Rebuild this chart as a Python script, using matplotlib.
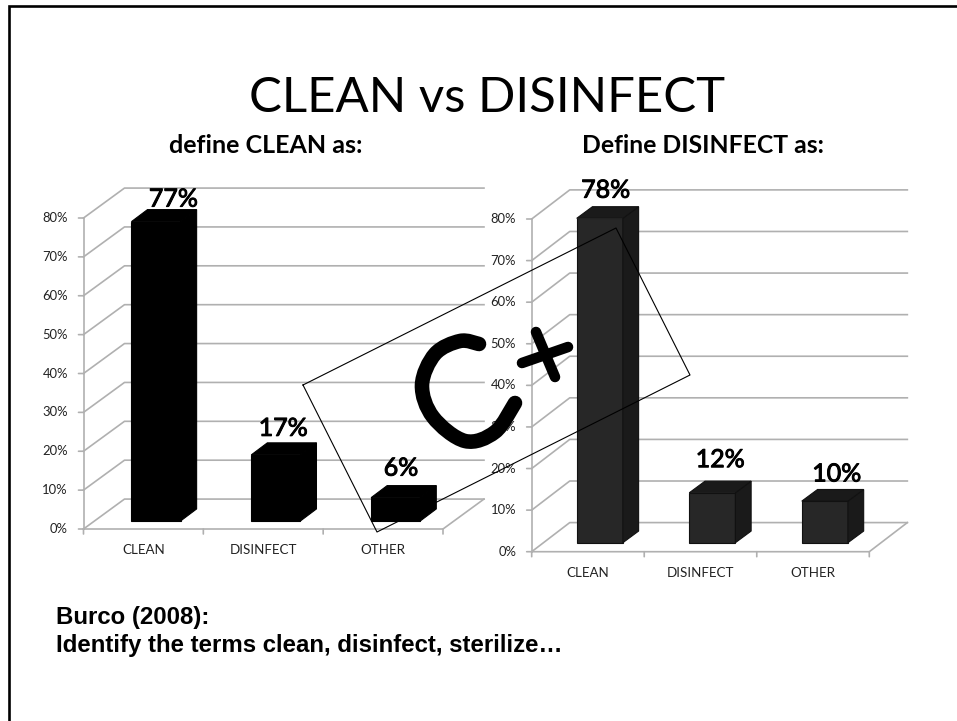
import matplotlib
matplotlib.use("Agg")
import matplotlib.pyplot as plt
import matplotlib.patheffects as pe
from matplotlib.path import Path
from matplotlib.patches import PathPatch

W, H = 957, 721

categories = ['CLEAN', 'DISINFECT', 'OTHER']
clean_values = [77, 17, 6]
disinfect_values = [78, 12, 10]
y_ticks = [0, 10, 20, 30, 40, 50, 60, 70, 80]

GRID = '#b0b0b0'
FONT = 'Lato'

plt.rcParams['font.family'] = [FONT, 'DejaVu Sans']

fig = plt.figure(figsize=(W / 100, H / 100), dpi=100)


def add_px_axes(left, right, top, bottom):
    return fig.add_axes([left / W, 1 - bottom / H, (right - left) / W, (bottom - top) / H])


def smooth_path(pts):
    # catmull-rom through the points
    verts = [pts[0]]
    codes = [Path.MOVETO]
    for i in range(len(pts) - 1):
        p0 = pts[max(i - 1, 0)]
        p1 = pts[i]
        p2 = pts[i + 1]
        p3 = pts[min(i + 2, len(pts) - 1)]
        c1 = (p1[0] + (p2[0] - p0[0]) / 6, p1[1] + (p2[1] - p0[1]) / 6)
        c2 = (p2[0] - (p3[0] - p1[0]) / 6, p2[1] - (p3[1] - p1[1]) / 6)
        verts += [c1, c2, p2]
        codes += [Path.CURVE4] * 3
    return Path(verts, codes)


def draw_chart(ax, values, front, side, edge, wall_dx, wall_dy, bar_dx, bar_dy, base, label_off):
    ax.set_xlim(0, 3)
    ax.set_ylim(0, 80)
    ax.axis('off')
    # walls and grid
    for v in y_ticks:
        ax.plot([0, wall_dx, 3 + wall_dx], [v, v + wall_dy, v + wall_dy],
                color=GRID, lw=1.2, clip_on=False, zorder=1)
        ax.annotate(f'{v}%', (0, v), xytext=(-15.5, 0), textcoords='offset pixels',
                    ha='right', va='center', fontsize=9.4, color='#222222', annotation_clip=False)
        ax.annotate('', (0, v), xytext=(-5, 0), textcoords='offset pixels',
                    arrowprops=dict(arrowstyle='-', color=GRID, lw=1.2, shrinkA=0, shrinkB=0),
                    annotation_clip=False)
    ax.plot([0, 0], [0, 80], color=GRID, lw=1.2, clip_on=False, zorder=1)
    ax.plot([0, 3, 3 + wall_dx], [0, 0, wall_dy], color=GRID, lw=1.2, clip_on=False, zorder=1)
    for i in range(4):
        ax.annotate('', (i, 0), xytext=(0, -5), textcoords='offset pixels',
                    arrowprops=dict(arrowstyle='-', color=GRID, lw=1.2, shrinkA=0, shrinkB=0),
                    annotation_clip=False)
    for i, name in enumerate(categories):
        ax.annotate(name, (i + 0.5, 0), xytext=(0, -21), textcoords='offset pixels',
                    ha='center', va='center', fontsize=9.6, color='#222222', annotation_clip=False)
    # bars
    for i, v in enumerate(values):
        x0 = i + 0.4
        x1 = x0 + 0.41
        top = base + v
        ax.bar(x0, v, width=x1 - x0, bottom=base, align='edge', color=front,
               edgecolor=edge, lw=0.8, zorder=3)
        ax.fill([x1, x1 + bar_dx, x1 + bar_dx, x1], [base, base + bar_dy, top + bar_dy, top],
                facecolor=side, edgecolor=edge, lw=0.8, zorder=3, clip_on=False)
        ax.fill([x0, x0 + bar_dx, x1 + bar_dx, x1], [top, top + bar_dy, top + bar_dy, top],
                facecolor=side, edgecolor=edge, lw=0.8, zorder=3, clip_on=False)
        ox, oy = label_off[i]
        ax.annotate(f'{v}%', (x0, top + bar_dy), xytext=(ox, oy), textcoords='offset pixels',
                    ha='center', va='baseline', fontsize=18, color='black', zorder=5,
                    annotation_clip=False,
                    path_effects=[pe.withStroke(linewidth=0.7, foreground='black')])


ax1 = add_px_axes(83.5, 443, 218, 529)
draw_chart(ax1, clean_values, 'black', 'black', 'black', 0.342, 7.7, 0.134, 3.1, 2.06,
           [(42, 3), (32, 7), (30, 10)])

ax2 = add_px_axes(531.7, 869.3, 219, 551.7)
draw_chart(ax2, disinfect_values, '#272727', '#1a1a1a', '#111111', 0.338, 7.0, 0.14, 2.8, 2.16,
           [(29, 9), (31, 14), (35, 8)])

# overlay in pixel coordinates: frame, titles, handwritten mark
over = fig.add_axes([0, 0, 1, 1], zorder=10)
over.set_xlim(0, W)
over.set_ylim(H, 0)
over.axis('off')
over.patch.set_alpha(0)

over.plot([8.5, 8.5, W], [H, 5.5, 5.5], color='black', lw=1.9, solid_joinstyle='miter')

over.text(487.5, 112, 'CLEAN vs DISINFECT', ha='center', va='baseline', fontsize=35.4, color='black')
over.text(265.5, 153, 'define CLEAN as:', ha='center', va='baseline', fontsize=18,
          color='black', fontweight='bold')
over.text(702.5, 153, 'Define DISINFECT as:', ha='center', va='baseline', fontsize=17.8,
          color='black', fontweight='bold')
over.text(56, 624, 'Burco (2008):', ha='left', va='baseline', fontsize=17.25,
          family='Liberation Sans', fontweight='bold', color='black')
over.text(56, 652, 'Identify the terms clean, disinfect, sterilize…', ha='left', va='baseline',
          fontsize=17.25, family='Liberation Sans', fontweight='bold', color='black')

box_x = [303, 616, 690, 377, 303]
box_y = [385, 228, 375, 532, 385]
over.plot(box_x, box_y, color='black', lw=0.8)

c_stroke = [(479, 344), (460, 341), (435, 354), (422, 385), (433, 417), (465, 441), (495, 432), (515, 403)]
over.add_patch(PathPatch(smooth_path(c_stroke), fill=False, lw=10.5, edgecolor='black',
                         capstyle='round', joinstyle='round'))
over.plot([536, 555], [332, 377], color='black', lw=7.6, solid_capstyle='round')
over.plot([522, 568], [363, 347], color='black', lw=7.6, solid_capstyle='round')

fig.savefig('out.png', dpi=100)
